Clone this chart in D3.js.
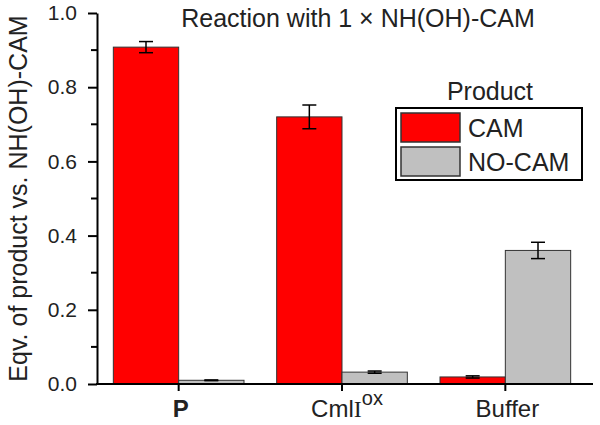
<!DOCTYPE html>
<html>
<head>
<meta charset="utf-8">
<script src="https://cdn.jsdelivr.net/npm/d3@7"></script>
<style>
  body { margin: 0; background: #fff; }
  svg { font-family: Arial, "Liberation Sans", sans-serif; }
</style>
</head>
<body>
<div id="chart"></div>
<script>
// categories and series
const categories = ["P", "CmlI", "Buffer"];
const keys = ["CAM", "NO-CAM"];
const camValues = [0.908, 0.720, 0.019];
const camErrors = [0.015, 0.032, 0.003];
const noCamValues = [0.010, 0.032, 0.360];
const noCamErrors = [0.001, 0.003, 0.022];
const yTicks = [0.0, 0.2, 0.4, 0.6, 0.8, 1.0];
const yMinorTicks = [0.1, 0.3, 0.5, 0.7, 0.9];
const colors = ["#ff0000", "#c0c0c0"];

const data = categories.map((c, i) => ({
  cat: c,
  values: [
    { key: "CAM", value: camValues[i], err: camErrors[i] },
    { key: "NO-CAM", value: noCamValues[i], err: noCamErrors[i] }
  ]
}));

const width = 600, height = 425;
const svg = d3.select("#chart").append("svg")
  .attr("width", width)
  .attr("height", height);

const x0 = d3.scaleBand()
  .domain(categories)
  .range([97, 587])
  .paddingInner(0.2)
  .paddingOuter(0.1);

const x1 = d3.scaleBand()
  .domain(keys)
  .range([0, x0.bandwidth()]);

const y = d3.scaleLinear()
  .domain([0, 1])
  .range([384, 13]);

const color = d3.scaleOrdinal().domain(keys).range(colors);

// bars
const groups = svg.append("g")
  .selectAll("g")
  .data(data)
  .join("g")
  .attr("transform", d => `translate(${x0(d.cat)},0)`);

groups.selectAll("rect")
  .data(d => d.values)
  .join("rect")
  .attr("x", d => x1(d.key))
  .attr("y", d => y(d.value))
  .attr("width", x1.bandwidth())
  .attr("height", d => y(0) - y(d.value))
  .attr("fill", d => color(d.key))
  .attr("stroke", "#333")
  .attr("stroke-width", 1);

// error bars
const capW = 7;
const eb = groups.selectAll("g.err")
  .data(d => d.values)
  .join("g")
  .attr("class", "err")
  .attr("stroke", "#000")
  .attr("stroke-width", 1.5);

eb.append("line")
  .attr("x1", d => x1(d.key) + x1.bandwidth() / 2)
  .attr("x2", d => x1(d.key) + x1.bandwidth() / 2)
  .attr("y1", d => y(d.value + d.err))
  .attr("y2", d => y(d.value - d.err));
eb.append("line")
  .attr("x1", d => x1(d.key) + x1.bandwidth() / 2 - capW)
  .attr("x2", d => x1(d.key) + x1.bandwidth() / 2 + capW)
  .attr("y1", d => y(d.value + d.err))
  .attr("y2", d => y(d.value + d.err));
eb.append("line")
  .attr("x1", d => x1(d.key) + x1.bandwidth() / 2 - capW)
  .attr("x2", d => x1(d.key) + x1.bandwidth() / 2 + capW)
  .attr("y1", d => y(d.value - d.err))
  .attr("y2", d => y(d.value - d.err));

// y axis
const yAxis = svg.append("g")
  .attr("transform", "translate(97,0)")
  .call(d3.axisLeft(y).tickValues(yTicks).tickFormat(d3.format(".1f")).tickSize(9).tickSizeOuter(0));
yAxis.select(".domain").attr("stroke-width", 2);
yAxis.selectAll(".tick line").attr("stroke-width", 2);
yAxis.selectAll(".tick text")
  .attr("font-size", 21)
  .attr("font-family", "Arial, 'Liberation Sans', sans-serif")
  .attr("fill", "#222")
  .attr("x", -20);

svg.append("g")
  .selectAll("line")
  .data(yMinorTicks)
  .join("line")
  .attr("x1", 91)
  .attr("x2", 97)
  .attr("y1", d => y(d))
  .attr("y2", d => y(d))
  .attr("stroke", "#000")
  .attr("stroke-width", 2);

// x axis
svg.append("line")
  .attr("x1", 96)
  .attr("x2", 593)
  .attr("y1", y(0))
  .attr("y2", y(0))
  .attr("stroke", "#000")
  .attr("stroke-width", 2);

const xTicks = svg.append("g")
  .selectAll("g")
  .data(categories)
  .join("g")
  .attr("transform", d => `translate(${x0(d) + x0.bandwidth() / 2},${y(0)})`);

xTicks.append("line")
  .attr("y2", 7)
  .attr("stroke", "#000")
  .attr("stroke-width", 2);

const xLabels = xTicks.append("text")
  .attr("y", 33)
  .attr("text-anchor", "middle")
  .attr("font-size", 24)
  .attr("fill", "#222");

xLabels.each(function (d) {
  const t = d3.select(this);
  if (d === "P") {
    t.attr("font-weight", "bold").attr("x", 2).text("P");
  } else if (d === "CmlI") {
    t.attr("x", 5);
    t.append("tspan").text("Cml");
    t.append("tspan").attr("font-family", "'Liberation Serif', 'Times New Roman', serif").text("I");
    t.append("tspan").attr("dy", -12).attr("font-size", 20).text("ox");
  } else {
    t.attr("x", 2).text(d);
  }
});

// y axis label
svg.append("text")
  .attr("transform", "rotate(-90)")
  .attr("x", -y(0.5))
  .attr("y", 27)
  .attr("text-anchor", "middle")
  .attr("font-size", 25)
  .attr("fill", "#222")
  .text("Eqv. of product vs. NH(OH)-CAM");

// title
svg.append("text")
  .attr("x", 358)
  .attr("y", 27)
  .attr("text-anchor", "middle")
  .attr("font-size", 25)
  .attr("fill", "#222")
  .text("Reaction with 1 \u00d7 NH(OH)-CAM");

// legend
svg.append("text")
  .attr("x", 490)
  .attr("y", 100)
  .attr("text-anchor", "middle")
  .attr("font-size", 25)
  .attr("fill", "#222")
  .text("Product");

svg.append("rect")
  .attr("x", 396)
  .attr("y", 108)
  .attr("width", 186)
  .attr("height", 72)
  .attr("fill", "#fff")
  .attr("stroke", "#000")
  .attr("stroke-width", 2);

const legend = svg.append("g")
  .selectAll("g")
  .data(keys)
  .join("g")
  .attr("transform", (d, i) => `translate(401,${113 + i * 34})`);

legend.append("rect")
  .attr("width", 59)
  .attr("height", 29)
  .attr("fill", d => color(d))
  .attr("stroke", "#333")
  .attr("stroke-width", 1.5);

legend.append("text")
  .attr("x", 67)
  .attr("y", 24)
  .attr("font-size", 25)
  .attr("fill", "#222")
  .text(d => d);
</script>
</body>
</html>
